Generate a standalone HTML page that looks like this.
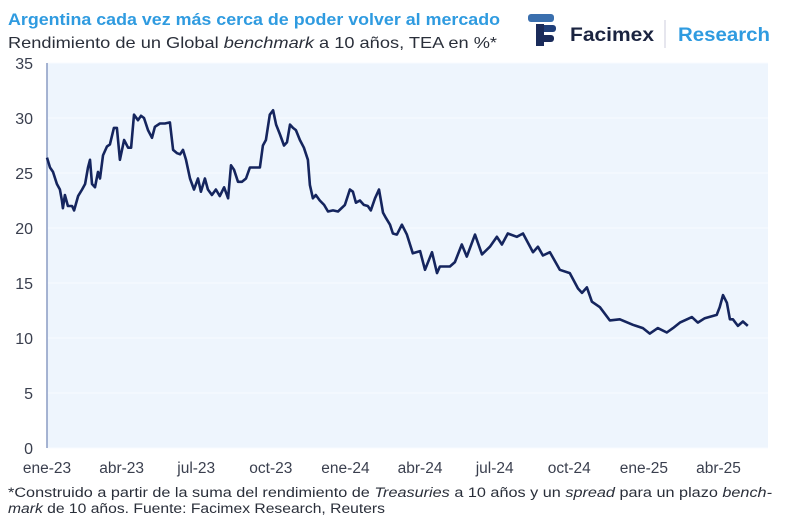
<!DOCTYPE html>
<html><head><meta charset="utf-8"><style>
body{margin:0;background:#fff;width:800px;height:525px;overflow:hidden;font-family:"Liberation Sans",sans-serif}
</style></head><body>
<svg width="800" height="525" font-family="Liberation Sans, sans-serif">
<text x="8" y="25" font-size="17" font-weight="bold" fill="#2f9be0" textLength="492" lengthAdjust="spacingAndGlyphs">Argentina cada vez más cerca de poder volver al mercado</text>
<text x="8" y="48" font-size="16" fill="#2a2f3a" textLength="489" lengthAdjust="spacingAndGlyphs">Rendimiento de un Global <tspan font-style="italic">benchmark</tspan> a 10 años, TEA en %*</text>
<g>
<rect x="528" y="14" width="26" height="8" rx="3" fill="#3a6fae"/>
<rect x="536" y="25" width="20" height="7" rx="3" fill="#1f3f7a"/>
<rect x="536" y="35" width="18" height="7" rx="3" fill="#1a2b5a"/>
<rect x="536" y="24" width="8" height="22" fill="#1a2b5a"/>
<text x="570" y="41" font-size="19" font-weight="bold" fill="#1b2440" textLength="84" lengthAdjust="spacingAndGlyphs">Facimex</text>
<line x1="665" y1="20" x2="665" y2="48" stroke="#ccd" stroke-width="1"/>
<text x="678" y="41" font-size="19" font-weight="bold" fill="#2f9be0" textLength="92" lengthAdjust="spacingAndGlyphs">Research</text>
</g>
<rect x="47" y="63" width="721" height="385" fill="#eef5fd"/>
<g id="grid"></g>
<line x1="47" y1="63" x2="47" y2="448" stroke="#8a9bc4" stroke-width="1.5"/>
<g id="yt" font-size="16" fill="#3a3f4e" text-anchor="end"></g>
<g id="xt" font-size="15.5" fill="#3a3f4e" text-anchor="middle"></g>
<path id="line" fill="none" stroke="#15255e" stroke-width="2.6" stroke-linejoin="round"/>
<text x="8" y="497" font-size="13.5" fill="#2a2f3a" textLength="764" lengthAdjust="spacingAndGlyphs">*Construido a partir de la suma del rendimiento de <tspan font-style="italic">Treasuries</tspan> a 10 años y un <tspan font-style="italic">spread</tspan> para un plazo <tspan font-style="italic">bench-</tspan></text>
<text x="8" y="513" font-size="13.5" fill="#2a2f3a" textLength="377" lengthAdjust="spacingAndGlyphs"><tspan font-style="italic">mark</tspan> de 10 años. Fuente: Facimex Research, Reuters</text>
</svg>
<script>
const months=[0,.12,.24,.40,.52,.60,.64,.72,.84,1.01,1.09,1.25,1.41,1.53,1.65,1.73,1.81,1.93,2.05,2.13,2.25,2.41,2.53,2.69,2.81,2.93,3.10,3.26,3.38,3.50,3.66,3.78,3.90,4.06,4.22,4.34,4.54,4.74,4.94,5.07,5.23,5.35,5.47,5.59,5.75,5.91,6.07,6.19,6.35,6.47,6.63,6.79,6.95,7.12,7.28,7.40,7.52,7.68,7.84,8.00,8.16,8.36,8.56,8.68,8.80,8.96,9.09,9.21,9.37,9.53,9.65,9.77,9.89,10.01,10.17,10.33,10.49,10.57,10.69,10.81,10.97,11.14,11.30,11.50,11.70,11.98,12.18,12.30,12.42,12.58,12.74,12.90,13.02,13.19,13.35,13.51,13.63,13.79,13.91,14.07,14.27,14.47,14.71,15.0,15.2,15.48,15.68,15.80,16.2,16.4,16.68,16.88,17.21,17.49,17.81,18.09,18.29,18.53,18.89,19.14,19.54,19.74,19.94,20.22,20.62,21.02,21.35,21.51,21.71,21.91,22.23,22.63,23.03,23.56,23.96,24.24,24.56,24.92,25.17,25.45,25.93,26.17,26.45,26.93,27.05,27.18,27.34,27.46,27.58,27.78,27.98,28.18];
const yields=[26.4,25.5,25.1,24,23.5,22.5,21.8,23,22,22,21.6,22.9,23.5,24,25.5,26.2,24,23.7,25.1,24.5,26.6,27.4,27.6,29.1,29.1,26.2,28,27.3,27.3,30.3,29.8,30.2,30,28.9,28.2,29.2,29.5,29.5,29.6,27.1,26.8,26.7,27.1,26.2,24.5,23.5,24.5,23.3,24.5,23.5,23,23.5,22.9,23.7,22.7,25.7,25.3,24.2,24.2,24.5,25.5,25.5,25.5,27.5,28,30.3,30.7,29.4,28.5,27.5,27.8,29.4,29.1,28.9,28,27.3,26.2,23.9,22.7,23,22.5,22.1,21.5,21.6,21.5,22.1,23.5,23.3,22.3,22.5,22.1,22,21.6,22.7,23.5,21.4,20.9,20.3,19.5,19.4,20.3,19.4,17.7,17.9,16.2,17.8,15.9,16.5,16.5,16.9,18.5,17.4,19.4,17.6,18.3,19.2,18.5,19.5,19.2,19.5,17.8,18.3,17.5,17.8,16.2,15.9,14.5,14.1,14.6,13.3,12.8,11.6,11.7,11.2,10.9,10.4,10.9,10.5,10.9,11.4,11.9,11.4,11.8,12.1,12.8,13.9,13.2,11.7,11.7,11.1,11.5,11.1];
const yTicks=[0,5,10,15,20,25,30,35];
const xTickLabels=["ene-23","abr-23","jul-23","oct-23","ene-24","abr-24","jul-24","oct-24","ene-25","abr-25"];
const xTickMonths=[0,3,6,9,12,15,18,21,24,27];
const X=m=>47+m*24.87, Y=v=>448-v*11;
const NS="http://www.w3.org/2000/svg";
const yt=document.getElementById('yt'),xt=document.getElementById('xt'),grid=document.getElementById('grid');
yTicks.forEach(v=>{
 const t=document.createElementNS(NS,'text');t.setAttribute('x',33);t.setAttribute('y',Y(v)+6);t.textContent=v;
 
 
 yt.appendChild(t);
 const l=document.createElementNS(NS,'line');l.setAttribute('x1',47);l.setAttribute('x2',768);l.setAttribute('y1',Y(v));l.setAttribute('y2',Y(v));l.setAttribute('stroke','#f8fbff');l.setAttribute('stroke-width','1');
 
 
 grid.appendChild(l);
});
xTickLabels.forEach((s,i)=>{
 const t=document.createElementNS(NS,'text');t.setAttribute('x',X(xTickMonths[i]));t.setAttribute('y',473);t.textContent=s;
 
 
 xt.appendChild(t);
});
document.getElementById('line').setAttribute('d',months.map((m,i)=>(i?'L':'M')+X(m).toFixed(1)+' '+Y(yields[i]).toFixed(1)).join(' '));
</script>
</body></html>
